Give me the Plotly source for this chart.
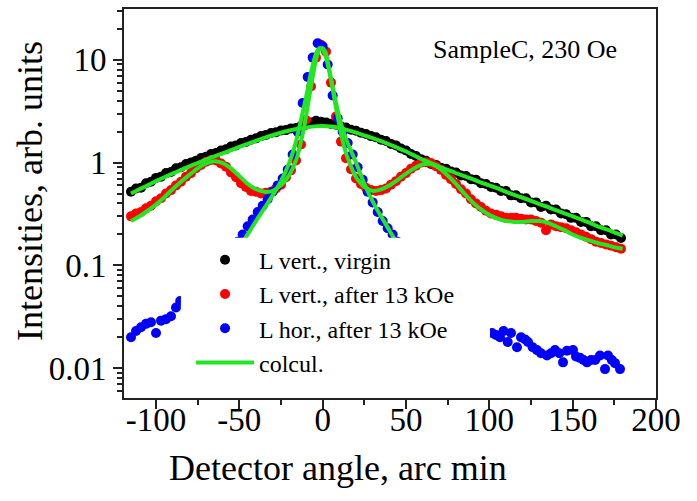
import plotly.graph_objects as go

# ---------------- data ----------------
black_x = [-115, -112, -109, -106, -103, -100, -97, -94, -91, -88, -85, -82, -79, -76, -73, -70, -67, -64, -61, -58,
           -55, -52, -49, -46, -43, -40, -37, -34, -31, -28, -25, -22, -19, -16, -13, -10, -7, -4, -1, 2,
           5, 8, 11, 14, 17, 20, 23, 26, 29, 32, 35, 38, 41, 44, 47, 50, 53, 56, 59, 62,
           65, 68, 71, 74, 77, 80, 83, 86, 89, 92, 95, 98, 101, 104, 107, 110, 113, 116, 119, 122,
           125, 128, 131, 134, 137, 140, 143, 146, 149, 152, 155, 158, 161, 164, 167, 170, 173, 176, 179]
black_y = [0.52, 0.56, 0.57, 0.63, 0.65, 0.71, 0.73, 0.79, 0.81, 0.88, 0.90, 0.97, 1.00, 1.04, 1.11, 1.14, 1.21, 1.24, 1.31, 1.35,
           1.43, 1.47, 1.55, 1.59, 1.67, 1.72, 1.81, 1.86, 1.94, 1.97, 2.05, 2.07, 2.15, 2.17, 2.27, 2.33, 2.45, 2.55, 2.50, 2.46,
           2.38, 2.34, 2.24, 2.19, 2.09, 2.04, 1.95, 1.90, 1.81, 1.76, 1.67, 1.62, 1.52, 1.47, 1.37, 1.31, 1.21, 1.16, 1.08, 1.04,
           0.97, 0.95, 0.89, 0.87, 0.82, 0.80, 0.75, 0.74, 0.69, 0.68, 0.63, 0.62, 0.58, 0.57, 0.53, 0.53, 0.48, 0.48, 0.45, 0.45,
           0.41, 0.41, 0.37, 0.38, 0.35, 0.35, 0.32, 0.315, 0.29, 0.29, 0.265, 0.265, 0.24, 0.24, 0.22, 0.22, 0.20, 0.20, 0.185]

red_x = black_x
red_y = [0.30, 0.32, 0.33, 0.36, 0.38, 0.42, 0.45, 0.50, 0.54, 0.60, 0.65, 0.73, 0.79, 0.88, 0.95, 1.02, 1.06, 1.05, 0.98, 0.91,
         0.80, 0.72, 0.63, 0.58, 0.53, 0.52, 0.50, 0.51, 0.52, 0.56, 0.61, 0.72, 0.84, 1.05, 1.5, 2.6, 5.5, 10.5, 14.0, 12.0,
         6.0, 2.8, 1.6, 1.1, 0.86, 0.70, 0.62, 0.57, 0.54, 0.53, 0.54, 0.56, 0.61, 0.66, 0.73, 0.79, 0.87, 0.93, 1.00, 1.01,
         0.99, 0.92, 0.85, 0.76, 0.69, 0.62, 0.55, 0.50, 0.44, 0.40, 0.37, 0.34, 0.32, 0.31, 0.30, 0.29, 0.29, 0.29, 0.285, 0.28,
         0.28, 0.27, 0.26, 0.22, 0.25, 0.24, 0.235, 0.23, 0.22, 0.21, 0.20, 0.19, 0.18, 0.17, 0.165, 0.16, 0.155, 0.15, 0.145]

blue_x_left = [-115, -112, -109, -106, -103, -100, -97, -94, -91, -88, -85.5]
blue_y_left = [0.020, 0.023, 0.025, 0.027, 0.028, 0.022, 0.029, 0.030, 0.032, 0.039, 0.045]
blue_x_mid = [-54, -51, -48, -45, -42, -39, -36, -33, -30, -27, -24, -21, -18, -15, -12, -9, -6, -3, 0, 3,
              6, 9, 12, 15, 18, 21, 24, 27, 30, 33, 36, 39, 42, 45, 48]
blue_y_mid = [0.14, 0.17, 0.20, 0.24, 0.28, 0.33, 0.38, 0.44, 0.52, 0.60, 0.70, 0.85, 1.2, 2.0, 3.8, 6.8, 10.5, 14.5, 13.5, 9.0,
              4.5, 2.7, 2.0, 1.55, 1.2, 0.9, 0.68, 0.52, 0.41, 0.33, 0.27, 0.23, 0.20, 0.17, 0.14]
blue_x_right = [101.6, 104, 106.4, 108.5, 111, 113, 116.6, 119, 121.5, 123.2, 126, 128.6, 131, 134.6, 137, 139.4,
                142, 144.2, 146.6, 150.2, 152, 154.4, 156.5, 158.6, 161, 163.5, 166.4, 169.4, 171.2, 173.5, 175.4, 178.4]
blue_y_right = [0.022, 0.021, 0.020, 0.023, 0.018, 0.022, 0.016, 0.020, 0.019, 0.018, 0.016, 0.015, 0.014, 0.0133, 0.014, 0.015,
                0.014, 0.0114, 0.0148, 0.015, 0.013, 0.0126, 0.012, 0.0114, 0.012, 0.012, 0.0133, 0.0098, 0.0133, 0.012, 0.0112, 0.0098]

black_fit_x = [-115, -110, -105, -100, -95, -90, -85, -80, -75, -70, -65, -60, -55, -50, -45, -40, -35, -30, -25, -20,
               -15, -10, -5, 0, 5, 10, 15, 20, 25, 30, 35, 40, 45, 50, 55, 60, 65, 70, 75, 80,
               85, 90, 95, 100, 105, 110, 115, 120, 125, 130, 135, 140, 145, 150, 155, 160, 165, 170, 175, 180]
black_fit_y = [0.50, 0.55, 0.60, 0.66, 0.72, 0.78, 0.85, 0.92, 0.99, 1.07, 1.15, 1.23, 1.32, 1.42, 1.52, 1.63, 1.74, 1.85, 1.95, 2.05,
               2.13, 2.20, 2.25, 2.27, 2.24, 2.17, 2.07, 1.96, 1.84, 1.73, 1.62, 1.50, 1.39, 1.28, 1.17, 1.07, 0.99, 0.91, 0.85, 0.79,
               0.74, 0.69, 0.64, 0.60, 0.56, 0.52, 0.485, 0.455, 0.425, 0.395, 0.37, 0.345, 0.32, 0.30, 0.28, 0.26, 0.24, 0.225, 0.21, 0.195]

red_fit_x = [-115, -110, -105, -100, -95, -90, -85, -80, -75, -70, -65, -60, -55, -50, -45, -40, -35, -30, -25, -20,
             -16, -13, -10, -7, -4, -2, 0, 2, 4, 7, 10, 13, 16,
             20, 25, 30, 35, 40, 45, 50, 55, 60, 65, 70, 75, 80, 85, 90, 95, 100, 105, 110, 115, 120, 125, 130,
             135, 140, 145, 150, 155, 160, 165, 170, 175, 180]
red_fit_y = [0.27, 0.30, 0.34, 0.39, 0.46, 0.55, 0.65, 0.76, 0.88, 0.98, 1.03, 0.99, 0.88, 0.74, 0.62, 0.55, 0.52, 0.53, 0.60, 0.76,
             1.05, 1.6, 2.8, 5.5, 10.0, 12.5, 13.0, 11.5, 8.0, 4.2, 2.3, 1.4, 1.0,
             0.72, 0.58, 0.53, 0.55, 0.60, 0.68, 0.78, 0.88, 0.96, 0.97, 0.88, 0.75, 0.62, 0.50, 0.41, 0.35, 0.31, 0.285, 0.27, 0.265, 0.265, 0.27, 0.27,
             0.26, 0.24, 0.22, 0.20, 0.185, 0.175, 0.165, 0.158, 0.15, 0.145]

blue_fit_x = [-54, -50, -45, -40, -35, -30, -25, -20, -16, -13, -10, -7, -4, -2, 0, 2, 5, 8, 11, 14,
              17, 20, 25, 30, 35, 40, 45, 50]
blue_fit_y = [0.12, 0.15, 0.20, 0.27, 0.36, 0.48, 0.66, 1.0, 1.6, 2.6, 4.3, 7.5, 11.5, 13.0, 12.5, 10.5, 6.5, 3.8, 2.4, 1.7,
              1.3, 1.0, 0.62, 0.42, 0.30, 0.22, 0.16, 0.12]

x_tickvals = [-100, -50, 0, 50, 100, 150, 200]
x_ticktext = ["-100", "-50", "0", "50", "100", "150", "200"]
y_tickvals = [0.01, 0.1, 1, 10]
y_ticktext = ["0.01", "0.1", "1", "10"]

names = ["L vert., virgin", "L vert., after 13 kOe", "L hor., after 13 kOe", "colcul."]

# ---------------- figure ----------------
FONT = "Liberation Serif"
GREEN = "#22e622"
AXC = "#222222"

fig = go.Figure()
fig.add_trace(go.Scatter(x=black_x, y=black_y, mode="markers", name=names[0],
                         marker=dict(color="black", size=10)))
fig.add_trace(go.Scatter(x=red_x, y=red_y, mode="markers", name=names[1],
                         marker=dict(color="#ff0000", size=10)))
fig.add_trace(go.Scatter(x=blue_x_left + blue_x_mid + blue_x_right,
                         y=blue_y_left + blue_y_mid + blue_y_right,
                         mode="markers", name=names[2],
                         marker=dict(color="#0000ff", size=10)))
fig.add_trace(go.Scatter(x=black_fit_x, y=black_fit_y, mode="lines", name=names[3],
                         line=dict(color=GREEN, width=4, shape="spline", smoothing=0.5)))
fig.add_trace(go.Scatter(x=red_fit_x, y=red_fit_y, mode="lines", showlegend=False,
                         line=dict(color=GREEN, width=4, shape="spline", smoothing=0.5)))
fig.add_trace(go.Scatter(x=blue_fit_x, y=blue_fit_y, mode="lines", showlegend=False,
                         line=dict(color=GREEN, width=4, shape="spline", smoothing=0.5)))

fig.update_layout(
    width=697, height=501, autosize=False,
    margin=dict(l=124, r=41, t=7, b=103, pad=0),
    paper_bgcolor="white", plot_bgcolor="white",
    font=dict(family=FONT, color="black"),
    showlegend=True,
    legend=dict(x=0.126, y=0.412, xanchor="left", yanchor="top",
                bgcolor="rgba(0,0,0,0)", font=dict(family=FONT, size=24),
                itemwidth=58, tracegroupgap=0),
    shapes=[dict(type="rect", xref="paper", yref="paper", x0=0.107, x1=0.688, y0=0.03, y1=0.412,
                 fillcolor="white", line=dict(width=0), layer="above")],
    annotations=[
        dict(text="SampleC, 230 Oe", xref="paper", yref="paper", x=0.754, y=0.897,
             xanchor="center", yanchor="middle",
             showarrow=False, font=dict(family=FONT, size=26)),
        dict(text="Detector angle, arc min", xref="paper", yref="paper", x=0.402, y=-0.18,
             xanchor="center", yanchor="middle",
             showarrow=False, font=dict(family=FONT, size=36)),
        dict(text="Intensities, arb. units", xref="paper", yref="paper", x=-0.177, y=0.532,
             xanchor="center", yanchor="middle",
             textangle=-90, showarrow=False, font=dict(family=FONT, size=36)),
    ],
)
fig.update_xaxes(range=[-119.2, 200], tickmode="array", tickvals=x_tickvals, ticktext=x_ticktext,
                 ticks="outside", ticklen=9, tickwidth=2, tickcolor=AXC, ticklabelstandoff=-18,
                 showline=True, linewidth=2, linecolor=AXC, mirror=True,
                 showgrid=False, zeroline=False,
                 tickfont=dict(family=FONT, size=33),
                 minor=dict(ticks="outside", ticklen=5, tickwidth=2, tickcolor=AXC, dtick=25, tick0=0, showgrid=False))
fig.update_yaxes(type="log", range=[-2.29, 1.494], tickmode="array", tickvals=y_tickvals, ticktext=y_ticktext,
                 ticks="outside", ticklen=9, tickwidth=2, tickcolor=AXC,
                 showline=True, linewidth=2, linecolor=AXC, mirror=True,
                 showgrid=False, zeroline=False,
                 tickfont=dict(family=FONT, size=33),
                 minor=dict(ticks="outside", ticklen=5, tickwidth=1.5, tickcolor=AXC, dtick="D1", showgrid=False))

fig.write_html("out.html")
